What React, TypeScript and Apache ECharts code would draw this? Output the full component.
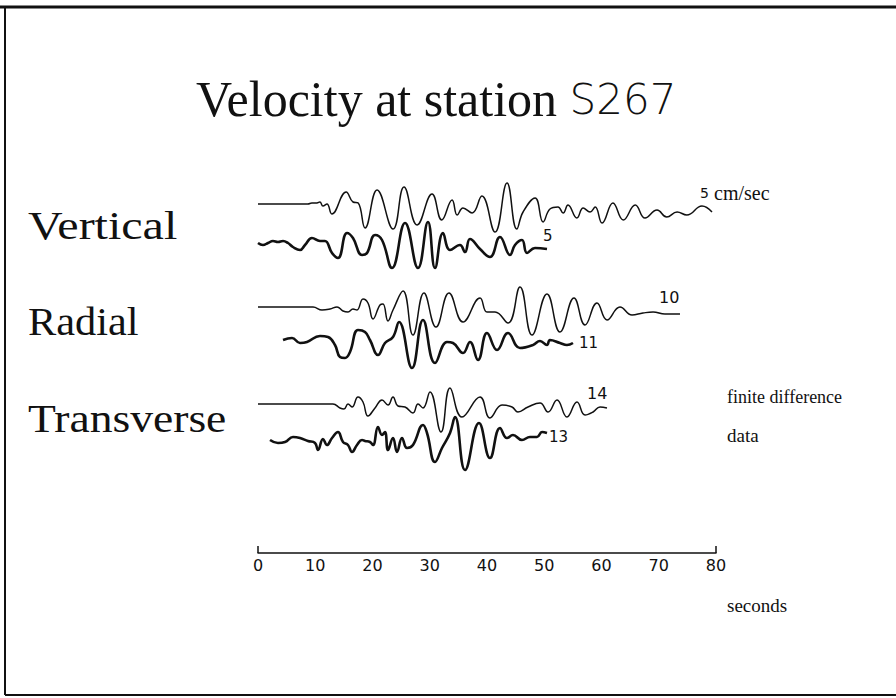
import React, { useEffect, useRef } from "react";
import * as echarts from "echarts";

// Time ticks (seconds)
const tickValues = [0, 10, 20, 30, 40, 50, 60, 70, 80];

// Vertical component – finite difference
const vFdT = [0, 8.7, 9.4, 10.3, 10.8, 11.35, 12.05, 12.9, 15.4, 16.6, 17.5, 18.7, 20.8, 23.6, 25.5, 27.8, 30.4, 32.1, 33.9, 34.8, 35.8, 37.4, 39.1, 41.4, 43.5, 45.2, 46.3, 48.4, 49.8, 51.0, 52.4, 53.3, 54.15, 55.7, 56.8, 58.0, 58.9, 60.1, 62.0, 63.8, 65.9, 67.6, 69.7, 71.4, 73.2, 74.9, 77.55, 79.3];
const vFdA = [0, 0, 1, 1, 2, -2, 0, -10, 12, 2, 1, -24, 14, -25, 17, -21, 10, -16, 4, -11, -4, -9, 8, -28, 21, -25, -8, 6, -18, -5, -3, -9, -1, -14, -4, -8, -3, -19, 1, -16, -1, -14, -6, -13, -8, -11, -2, -8];

// Vertical component – data
const vDaT = [0, 0.87, 1.75, 2.62, 3.49, 4.37, 5.24, 6.11, 7.34, 8.21, 9.43, 10.83, 11.7, 12.93, 13.97, 15.55, 16.59, 18.17, 19.04, 20.44, 21.66, 23.41, 25.68, 27.95, 29.69, 30.92, 32.31, 33.54, 35.28, 36.16, 37.03, 38.78, 40.52, 42.27, 44.02, 44.89, 46.11, 46.99, 48.38, 50.48];
const vDaA = [2, 0, 2, 4, 3, 4, 2, -2, -5, 0, 7, 4, 4, -8, -13, 12, 7, -10, -8, 10, 5, -23, 22, -23, 23, -23, 12, -5, 0, -7, 6, -4, -12, 8, -10, 0, 5, -8, -3, -4];

// Radial component – finite difference
const rFdT = [0, 9.61, 11.18, 12.58, 13.8, 14.85, 15.72, 16.59, 17.29, 18.34, 19.21, 20.09, 21.31, 21.83, 22.71, 23.58, 25.33, 27.07, 28.99, 31.09, 33.36, 35.81, 38.78, 40.0, 41.4, 43.67, 45.76, 47.86, 50.48, 52.75, 55.2, 57.12, 59.21, 60.96, 63.23, 65.33, 67.25, 69.0, 71.09, 73.71];
const rFdA = [0, 0, -3, -2, 0, -4, -5, -2, -3, 8, 4, -12, 2, 3, -14, -3, 16, -28, 14, -20, 14, -15, 9, -5, -5, -16, 20, -28, 13, -25, 9, -18, 4, -13, 0, -8, -6, -5, -7, -7];

// Radial component – data
const rDaT = [4.37, 5.94, 7.34, 8.56, 10.83, 12.23, 13.45, 14.32, 15.2, 16.07, 17.47, 18.69, 19.56, 20.96, 22.18, 23.58, 24.63, 26.9, 28.82, 30.92, 33.01, 34.06, 35.81, 37.03, 38.43, 40.0, 41.75, 43.67, 45.76, 48.03, 49.26, 50.48, 51.0, 52.75, 53.97, 55.02];
const rDaA = [0, 2, -3, -2, 4, 3, -5, -17, -18, -12, 10, 8, 0, -15, -3, 3, 18, -28, 20, -23, -2, -3, -13, -2, -20, 7, -10, 7, -8, -5, -1, -5, 0, -3, -5, -3];

// Transverse component – finite difference
const tFdT = [0, 13.1, 14.32, 15.02, 15.72, 16.42, 17.47, 18.34, 19.21, 20.44, 21.66, 22.71, 23.58, 24.45, 25.68, 27.07, 27.95, 28.82, 30.04, 31.97, 33.54, 35.63, 38.78, 40.52, 42.62, 44.37, 45.41, 47.16, 49.26, 50.66, 52.23, 53.97, 55.72, 57.12, 58.52, 59.74, 60.96];
const tFdA = [0, 0, -4, -5, 0, -3, 7, 2, -12, -4, 4, -1, 7, -2, -3, -9, 0, -4, 12, -28, 16, -13, 7, -14, -1, -3, -8, -3, 1, -8, 4, -13, 2, -11, -8, -3, -4];

// Transverse component – data
const tDaT = [2.1, 3.49, 4.72, 6.11, 7.34, 8.73, 9.96, 10.48, 11.35, 12.05, 12.93, 13.97, 14.85, 15.72, 16.42, 17.29, 18.17, 18.69, 19.56, 20.09, 20.96, 21.66, 22.18, 22.71, 23.58, 24.28, 25.15, 26.03, 27.07, 28.82, 29.52, 30.92, 32.14, 33.54, 34.41, 36.16, 38.6, 40.52, 42.27, 43.49, 44.54, 46.11, 47.51, 48.73, 49.61, 50.48];
const tDaA = [0, -3, -2, 3, 2, -1, -3, -10, 1, -5, 2, 8, -2, -5, -12, -5, 0, -1, -2, -5, 13, 5, 8, -10, 2, -12, 2, -8, -5, 15, 7, -22, -8, 7, 23, -30, 17, -18, 12, 2, 5, 0, 3, 3, 8, 7];

const SERIF = "'Liberation Serif', 'Times New Roman', serif";
const SANS = "'DejaVu Sans', sans-serif";
const INK = "#111";

export default function App() {
  const ref = useRef<HTMLDivElement>(null);

  useEffect(() => {
    if (!ref.current) return;
    const chart = echarts.init(ref.current, null, { renderer: "svg" });

    const traces = [
      { t: vFdT, a: vFdA, base: 349, w: 1.5 },
      { t: vDaT, a: vDaA, base: 308, w: 2.6 },
      { t: rFdT, a: rFdA, base: 246, w: 1.5 },
      { t: rDaT, a: rDaA, base: 213, w: 2.6 },
      { t: tFdT, a: tFdA, base: 149, w: 1.5 },
      { t: tDaT, a: tDaA, base: 113, w: 2.6 },
    ];

    const series = traces.map((tr) => ({
      type: "line",
      data: tr.t.map((t, i) => [t, tr.base + tr.a[i]]),
      showSymbol: false,
      smooth: 0.45,
      lineStyle: { color: INK, width: tr.w },
      clip: false,
    }));

    const txt = (text: string, x: number, y: number, size: number, family = SERIF, sx = 1) => ({
      type: "text",
      x,
      y,
      scaleX: sx,
      style: { text, fontFamily: family, fontSize: size, fill: INK, verticalAlign: "middle", align: "left" },
    });

    chart.setOption({
      animation: false,
      backgroundColor: "#fff",
      grid: { left: 258, right: 180, top: 150, bottom: 145 },
      xAxis: {
        type: "value",
        min: 0,
        max: 80,
        interval: 10,
        axisLine: { show: true, lineStyle: { color: INK, width: 1.5 } },
        axisTick: { show: true, inside: true, length: 7, customValues: [0, 80], lineStyle: { color: INK, width: 1.5 } },
        axisLabel: {
          color: INK,
          fontFamily: SANS,
          fontSize: 16,
          margin: 4,
          customValues: tickValues,
        },
        splitLine: { show: false },
      },
      yAxis: {
        type: "value",
        min: 0,
        max: 403,
        show: false,
      },
      series,
      graphic: [
        { type: "line", shape: { x1: 0, y1: 7, x2: 896, y2: 7 }, style: { stroke: INK, lineWidth: 3 } },
        { type: "line", shape: { x1: 5, y1: 7, x2: 5, y2: 695 }, style: { stroke: INK, lineWidth: 2 } },
        { type: "line", shape: { x1: 5, y1: 695, x2: 896, y2: 695 }, style: { stroke: INK, lineWidth: 2 } },
        {
          type: "text",
          x: 196,
          y: 99,
          style: {
            text: "{a|Velocity at station }{b|S267}",
            verticalAlign: "middle",
            fill: INK,
            rich: {
              a: { fontFamily: SERIF, fontSize: 50, fill: INK },
              b: { fontFamily: SANS, fontSize: 42, fill: INK, fontWeight: "lighter" },
            },
          },
        },
        txt("Vertical", 28, 226, 40, SERIF, 1.2),
        txt("Radial", 28, 321, 40, SERIF, 1.06),
        txt("Transverse", 28, 418, 40, SERIF, 1.14),
        txt("5", 700, 193, 14, SANS),
        txt("cm/sec", 714, 193, 20),
        txt("5", 543, 236, 15, SANS),
        txt("10", 659, 297, 16, SANS),
        txt("11", 579, 343, 15, SANS),
        txt("14", 587, 393, 16, SANS),
        txt("13", 549, 437, 15, SANS),
        txt("finite difference", 727, 397, 18),
        txt("data", 727, 435, 19),
        txt("seconds", 727, 605, 19),
      ],
    });

    return () => chart.dispose();
  }, []);

  return <div ref={ref} style={{ position: "fixed", left: 0, top: 0, width: 896, height: 698 }} />;
}
